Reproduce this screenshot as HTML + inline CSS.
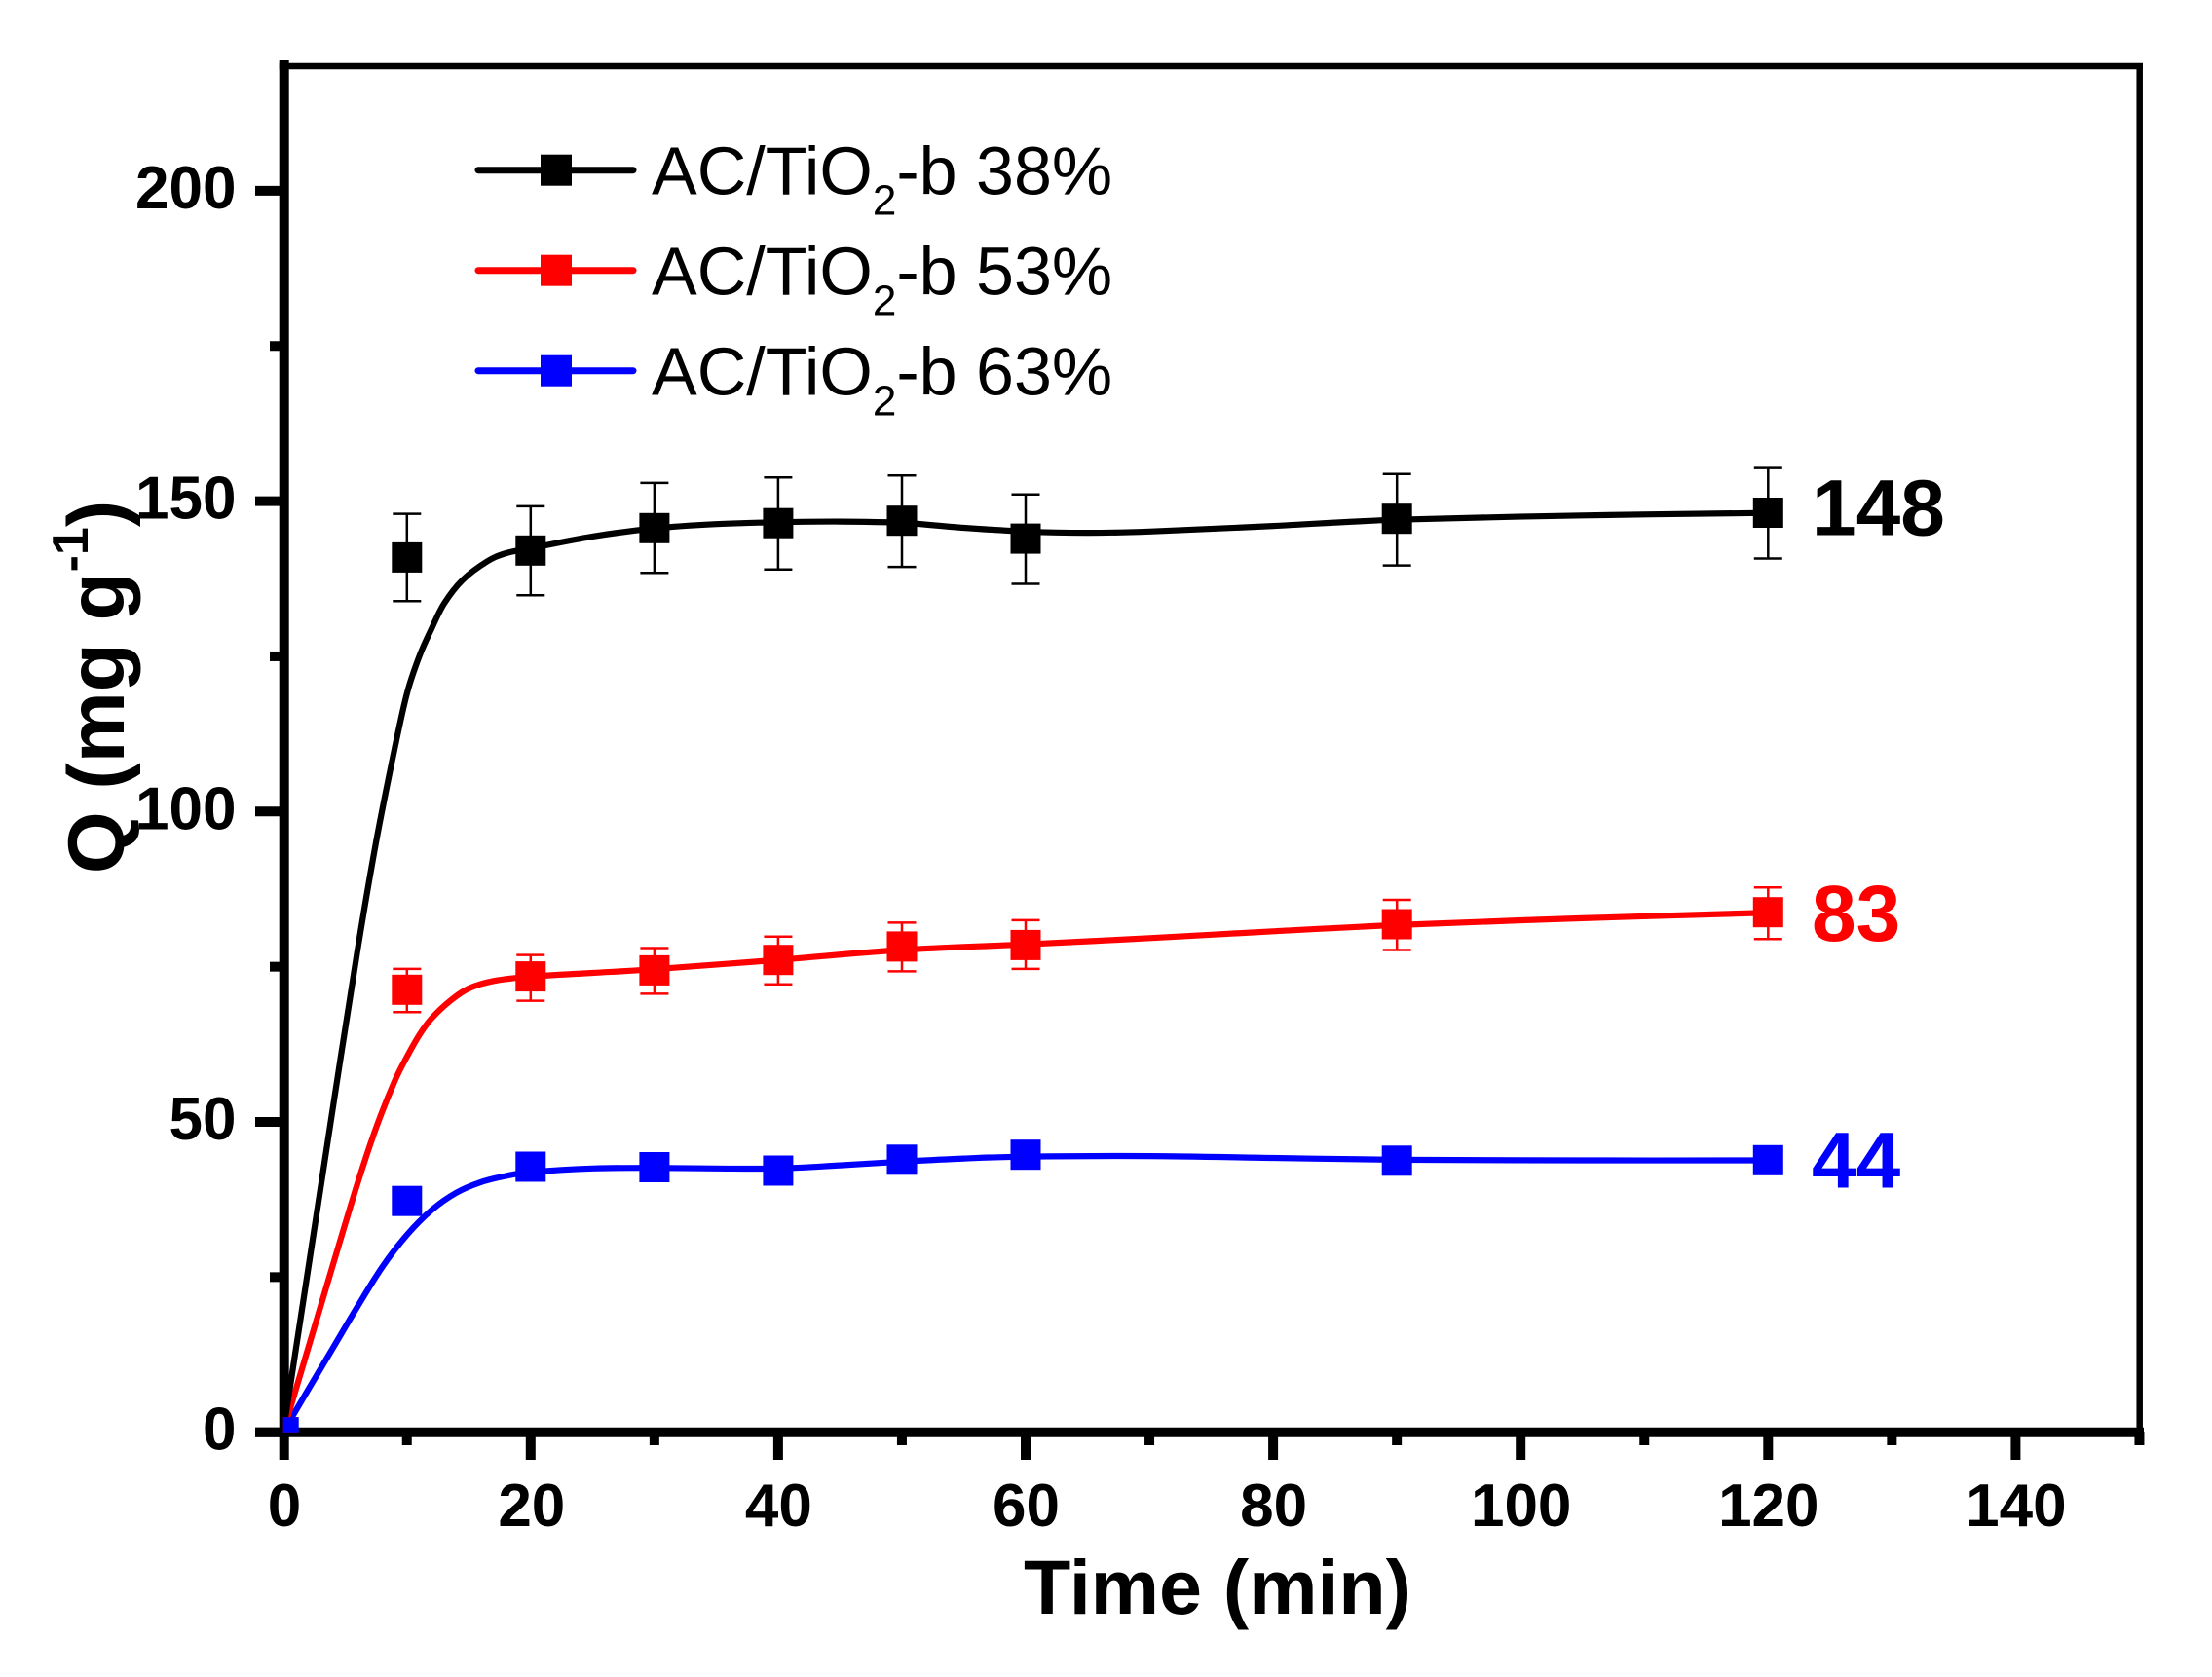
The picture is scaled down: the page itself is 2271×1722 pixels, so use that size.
<!DOCTYPE html>
<html>
<head>
<meta charset="utf-8">
<style>
html,body{margin:0;padding:0;background:#fff;}
svg{display:block;}
text{font-family:"Liberation Sans",Arial,sans-serif;}
</style>
</head>
<body>
<svg width="2271" height="1722" viewBox="0 0 2271 1722" xmlns="http://www.w3.org/2000/svg">
<rect x="0" y="0" width="2271" height="1722" fill="#fff"/>
<defs>
<clipPath id="plot"><rect x="290.7" y="60" width="1906" height="1410.7"/></clipPath>
</defs>

<!-- frame -->
<g stroke="#000" fill="none">
<line x1="286.7" y1="68" x2="2200" y2="68" stroke-width="6.5"/>
<line x1="2196.7" y1="65" x2="2196.7" y2="1470" stroke-width="6.5"/>
<line x1="291.7" y1="62" x2="291.7" y2="1475.7" stroke-width="10"/>
<line x1="262" y1="1470.7" x2="2201" y2="1470.7" stroke-width="10"/>
</g>

<!-- x ticks -->
<g stroke="#000" stroke-width="10">
<line x1="291.7" y1="1470" x2="291.7" y2="1499"/>
<line x1="544.8" y1="1470" x2="544.8" y2="1499"/>
<line x1="798.9" y1="1470" x2="798.9" y2="1499"/>
<line x1="1053" y1="1470" x2="1053" y2="1499"/>
<line x1="1307.1" y1="1470" x2="1307.1" y2="1499"/>
<line x1="1561.2" y1="1470" x2="1561.2" y2="1499"/>
<line x1="1815.3" y1="1470" x2="1815.3" y2="1499"/>
<line x1="2069.4" y1="1470" x2="2069.4" y2="1499"/>
<line x1="417.75" y1="1470" x2="417.75" y2="1484"/>
<line x1="671.85" y1="1470" x2="671.85" y2="1484"/>
<line x1="925.95" y1="1470" x2="925.95" y2="1484"/>
<line x1="1180.05" y1="1470" x2="1180.05" y2="1484"/>
<line x1="1434.15" y1="1470" x2="1434.15" y2="1484"/>
<line x1="1688.25" y1="1470" x2="1688.25" y2="1484"/>
<line x1="1942.35" y1="1470" x2="1942.35" y2="1484"/>
<line x1="2196.45" y1="1470" x2="2196.45" y2="1484"/>
</g>
<!-- y ticks -->
<g stroke="#000" stroke-width="10">
<line x1="262" y1="1470.7" x2="292" y2="1470.7"/>
<line x1="262" y1="1152" x2="292" y2="1152"/>
<line x1="262" y1="833.3" x2="292" y2="833.3"/>
<line x1="262" y1="514.6" x2="292" y2="514.6"/>
<line x1="262" y1="195.9" x2="292" y2="195.9"/>
<line x1="277" y1="1311.35" x2="292" y2="1311.35"/>
<line x1="277" y1="992.65" x2="292" y2="992.65"/>
<line x1="277" y1="673.95" x2="292" y2="673.95"/>
<line x1="277" y1="355.25" x2="292" y2="355.25"/>
</g>

<!-- tick labels -->
<g font-size="62" font-weight="bold" fill="#000" text-anchor="middle">
<text x="292" y="1567">0</text>
<text x="545.8" y="1567">20</text>
<text x="799.4" y="1567">40</text>
<text x="1053.5" y="1567">60</text>
<text x="1307.6" y="1567">80</text>
<text x="1561.7" y="1567">100</text>
<text x="1815.8" y="1567">120</text>
<text x="2069.9" y="1567">140</text>
</g>
<g font-size="62" font-weight="bold" fill="#000" text-anchor="end">
<text x="242.5" y="1488.7">0</text>
<text x="242.5" y="1170">50</text>
<text x="242.5" y="851.3">100</text>
<text x="242.5" y="532.6">150</text>
<text x="242.5" y="213.9">200</text>
</g>

<!-- axis titles -->
<text x="1250" y="1657" font-size="79" font-weight="bold" text-anchor="middle" fill="#000">Time (min)</text>
<text transform="translate(127,705.5) rotate(-90)" font-size="82" font-weight="bold" text-anchor="middle" fill="#000">Q (mg g<tspan font-size="52" dy="-37">-1</tspan><tspan dy="37">)</tspan></text>

<!-- data -->
<g clip-path="url(#plot)" fill="none" stroke-width="6.2" stroke-linejoin="round" stroke-linecap="round">
<path class="sm" stroke="#0000ff" d="M290.7,1470.7 L316.1,1427.4 L341.5,1384.7 L366.9,1341.9 L392.3,1301.2 L417.8,1268.0 L443.2,1242.5 L468.6,1224.7 L494.0,1213.8 L519.4,1207.5 L544.8,1203.6 L608.3,1199.8 L671.9,1199.2 L735.4,1199.8 L798.9,1199.8 L862.4,1196.6 L926.0,1192.8 L989.5,1189.6 L1053.0,1187.7 L1180.1,1187.1 L1307.1,1189.0 L1434.2,1190.9 L1624.7,1191.5 L1815.3,1191.5"/>
<path class="sm" stroke="#ff0000" d="M290.7,1470.7 L316.1,1385.3 L341.5,1299.9 L366.9,1215.7 L386.0,1158.4 L405.0,1110.6 L417.8,1085.1 L430.5,1062.8 L443.2,1045.6 L462.2,1027.7 L481.3,1015.0 L506.7,1007.3 L544.8,1002.8 L608.3,999.0 L671.9,995.2 L798.9,985.6 L926.0,975.4 L1053.0,969.7 L1180.1,963.3 L1307.1,956.3 L1434.2,949.9 L1624.7,942.9 L1815.3,937.2"/>
<path class="sm" stroke="#000000" d="M290.7,1470.7 L316.1,1305.0 L341.5,1139.3 L366.9,976.7 L386.0,865.2 L405.0,769.6 L417.8,712.2 L430.5,673.9 L443.2,645.3 L455.9,619.8 L474.9,595.6 L500.3,576.4 L519.4,568.1 L544.8,563.0 L608.3,550.9 L671.9,542.6 L735.4,538.2 L798.9,536.3 L862.4,535.6 L926.0,536.9 L989.5,542.0 L1053.0,545.8 L1116.5,547.1 L1180.1,545.8 L1307.1,540.1 L1434.2,533.7 L1624.7,529.3 L1815.3,526.7"/>
</g>

<!-- error bars black -->
<g stroke="#000" stroke-width="2.5" fill="none">
<path d="M417.8,527.6V617.3M403.3,527.6H432.3M403.3,617.3H432.3"/>
<path d="M544.8,519.9V611.2M530.3,519.9H559.3M530.3,611.2H559.3"/>
<path d="M671.9,495.9V588.3M657.4,495.9H686.4M657.4,588.3H686.4"/>
<path d="M798.9,490.3V584.7M784.4,490.3H813.4M784.4,584.7H813.4"/>
<path d="M926.0,488.3V582.1M911.5,488.3H940.5M911.5,582.1H940.5"/>
<path d="M1053.0,507.7V599.5M1038.5,507.7H1067.5M1038.5,599.5H1067.5"/>
<path d="M1434.2,486.7V580.6M1419.7,486.7H1448.7M1419.7,580.6H1448.7"/>
<path d="M1815.3,480.6V573.5M1800.8,480.6H1829.8M1800.8,573.5H1829.8"/>
</g>
<!-- error bars red -->
<g stroke="#ff0000" stroke-width="2.5" fill="none">
<path d="M417.8,994.9V1039.3M403.3,994.9H432.3M403.3,1039.3H432.3"/>
<path d="M544.8,980.6V1027.6M530.3,980.6H559.3M530.3,1027.6H559.3"/>
<path d="M671.9,973.5V1020.4M657.4,973.5H686.4M657.4,1020.4H686.4"/>
<path d="M798.9,961.7V1010.7M784.4,961.7H813.4M784.4,1010.7H813.4"/>
<path d="M926.0,947.4V997.4M911.5,947.4H940.5M911.5,997.4H940.5"/>
<path d="M1053.0,944.9V994.9M1038.5,944.9H1067.5M1038.5,994.9H1067.5"/>
<path d="M1434.2,924.0V975.5M1419.7,924.0H1448.7M1419.7,975.5H1448.7"/>
<path d="M1815.3,911.2V964.3M1800.8,911.2H1829.8M1800.8,964.3H1829.8"/>
</g>

<!-- markers -->
<g clip-path="url(#plot)">
<g fill="#000">
<rect x="402.3" y="556.9" width="31" height="31"/>
<rect x="529.3" y="549.8" width="31" height="31"/>
<rect x="656.4" y="526.8" width="31" height="31"/>
<rect x="783.4" y="521.7" width="31" height="31"/>
<rect x="910.5" y="519.2" width="31" height="31"/>
<rect x="1037.5" y="537.6" width="31" height="31"/>
<rect x="1418.7" y="517.2" width="31" height="31"/>
<rect x="1799.8" y="511.0" width="31" height="31"/>
<rect x="275.5" y="1455.2" width="31" height="31"/>
</g>
<g fill="#ff0000">
<rect x="402.3" y="1000.8" width="31" height="31"/>
<rect x="529.3" y="987.1" width="31" height="31"/>
<rect x="656.4" y="980.9" width="31" height="31"/>
<rect x="783.4" y="970.2" width="31" height="31"/>
<rect x="910.5" y="956.4" width="31" height="31"/>
<rect x="1037.5" y="954.9" width="31" height="31"/>
<rect x="1418.7" y="933.5" width="31" height="31"/>
<rect x="1799.8" y="921.2" width="31" height="31"/>
<rect x="275.5" y="1455.2" width="31" height="31"/>
</g>
<g fill="#0000ff">
<rect x="402.3" y="1217.7" width="31" height="31"/>
<rect x="529.3" y="1182.5" width="31" height="31"/>
<rect x="656.4" y="1183.0" width="31" height="31"/>
<rect x="783.4" y="1186.5" width="31" height="31"/>
<rect x="910.5" y="1175.3" width="31" height="31"/>
<rect x="1037.5" y="1170.2" width="31" height="31"/>
<rect x="1418.7" y="1176.3" width="31" height="31"/>
<rect x="1799.8" y="1175.8" width="31" height="31"/>
<rect x="275.7" y="1455.2" width="31" height="31"/>
</g>
</g>

<!-- value labels -->
<g font-size="82" font-weight="bold">
<text x="1860" y="549.3" fill="#000">148</text>
<text x="1860" y="966" fill="#ff0000">83</text>
<text x="1860" y="1219.3" fill="#0000ff">44</text>
</g>

<!-- legend -->
<g stroke-width="7" stroke-linecap="round">
<line x1="491" y1="174.7" x2="650" y2="174.7" stroke="#000"/>
<line x1="491" y1="277.7" x2="650" y2="277.7" stroke="#ff0000"/>
<line x1="491" y1="380.7" x2="650" y2="380.7" stroke="#0000ff"/>
</g>
<rect x="555" y="158.7" width="32" height="32" fill="#000"/>
<rect x="555" y="261.7" width="32" height="32" fill="#ff0000"/>
<rect x="555" y="364.7" width="32" height="32" fill="#0000ff"/>
<g font-size="70" fill="#000">
<text x="669" y="199.3">AC/TiO<tspan font-size="44" dy="21">2</tspan><tspan dy="-21">-b 38%</tspan></text>
<text x="669" y="302.3">AC/TiO<tspan font-size="44" dy="21">2</tspan><tspan dy="-21">-b 53%</tspan></text>
<text x="669" y="405.7">AC/TiO<tspan font-size="44" dy="21">2</tspan><tspan dy="-21">-b 63%</tspan></text>
</g>
</svg>
<script>
(function(){
  var paths = document.querySelectorAll('path.sm');
  for (var k = 0; k < paths.length; k++) {
    var p = paths[k];
    var nums = p.getAttribute('d').match(/-?[\d.]+/g).map(Number);
    var pts = [];
    for (var i = 0; i < nums.length; i += 2) pts.push([nums[i], nums[i+1]]);
    var d = 'M' + pts[0][0] + ',' + pts[0][1];
    for (var i = 0; i < pts.length - 1; i++) {
      var p0 = pts[i > 0 ? i - 1 : i], p1 = pts[i], p2 = pts[i + 1], p3 = pts[i + 2 < pts.length ? i + 2 : i + 1];
      var c1x = p1[0] + (p2[0] - p0[0]) / 6, c1y = p1[1] + (p2[1] - p0[1]) / 6;
      var c2x = p2[0] - (p3[0] - p1[0]) / 6, c2y = p2[1] - (p3[1] - p1[1]) / 6;
      d += ' C' + c1x.toFixed(2) + ',' + c1y.toFixed(2) + ' ' + c2x.toFixed(2) + ',' + c2y.toFixed(2) + ' ' + p2[0] + ',' + p2[1];
    }
    p.setAttribute('d', d);
  }
})();
</script>
</body>
</html>
